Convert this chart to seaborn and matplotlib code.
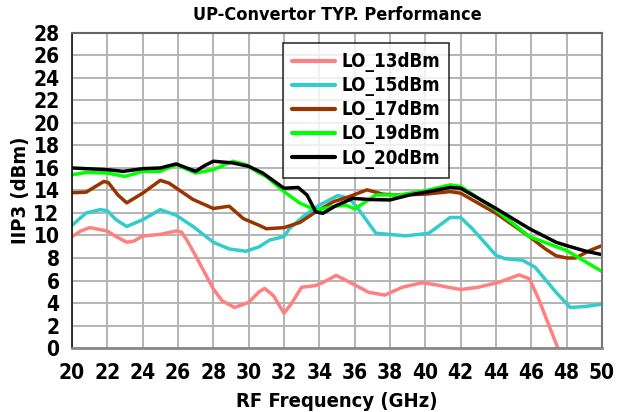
import numpy as np
import pandas as pd
import matplotlib
matplotlib.use("Agg")
import matplotlib.pyplot as plt
from matplotlib import font_manager
import seaborn as sns

title = "UP-Convertor TYP. Performance"
xlabel = "RF Frequency (GHz)"
ylabel = "IIP3 (dBm)"
series_names = ["LO_13dBm", "LO_15dBm", "LO_17dBm", "LO_19dBm", "LO_20dBm"]
colors = ["#FF8080", "#33CCCC", "#993300", "#00FF00", "#000000"]

lo13_x = [20, 20.5, 21, 22, 22.5, 23.1, 23.5, 24, 25, 25.9, 26.2, 26.5, 27, 28, 28.5, 29.2, 30, 30.6, 30.9,
          31.4, 32, 32.4, 33, 33.8, 34.3, 34.95, 35.9, 36.8, 37.7, 38.7, 39.8, 40.5, 41.3, 42, 43, 44.2, 45.3,
          45.9, 46.4, 47, 47.5]
lo13_y = [9.9, 10.4, 10.7, 10.4, 9.9, 9.4, 9.5, 9.95, 10.1, 10.4, 10.3, 9.6, 8.2, 5.25, 4.2, 3.6, 4.06, 5.0, 5.3,
          4.66, 3.1, 3.9, 5.4, 5.55, 5.9, 6.45, 5.7, 4.95, 4.7, 5.4, 5.8, 5.65, 5.4, 5.2, 5.4, 5.85, 6.5,
          6.15, 4.4, 2.0, 0.0]

lo15_x = [20, 20.8, 21.6, 22, 22.5, 23.1, 24, 25, 25.9, 26.85, 28, 28.9, 29.85, 30.6, 31.2, 32, 32.3, 33.1, 34,
          35.05, 35.7, 36.26, 37.2, 38.9, 40.2, 41.4, 42, 42.66, 44, 44.5, 45.5, 46.2, 47.4, 48.2, 49.1, 50]
lo15_y = [10.9, 12.0, 12.3, 12.2, 11.4, 10.8, 11.4, 12.3, 11.8, 10.8, 9.4, 8.8, 8.6, 9.0, 9.6, 9.9, 10.6, 11.7, 12.7,
          13.55, 13.3, 12.25, 10.2, 9.97, 10.2, 11.6, 11.6, 10.6, 8.24, 7.94, 7.8, 7.2, 4.95, 3.6, 3.7, 3.9]

lo17_x = [20, 20.8, 21.8, 22.06, 22.6, 23.1, 24, 25, 25.5, 26.85, 28, 28.9, 29.7, 30.6, 31, 32, 32.9, 33.8, 34.8,
          35.7, 36.7, 37.6, 38.5, 40, 41.4, 42, 44, 45.9, 46.8, 47.4, 48, 48.5, 49.3, 50]
lo17_y = [13.8, 13.85, 14.8, 14.7, 13.6, 12.9, 13.76, 14.9, 14.65, 13.2, 12.4, 12.6, 11.5, 10.9, 10.6, 10.7, 11.16,
          12.1, 13.0, 13.46, 14.06, 13.67, 13.6, 13.67, 13.9, 13.76, 11.97, 9.9, 8.8, 8.2, 8.0, 8.0, 8.66, 9.1]

lo19_x = [20, 20.8, 22, 23, 24, 25, 25.9, 27, 28, 29.1, 29.85, 30.6, 31, 32, 32.9, 33.8, 34.8, 35.5, 36, 36.3,
          37.2, 38.5, 40, 41.4, 42, 44, 45.9, 46.4, 48, 50]
lo19_y = [15.4, 15.6, 15.55, 15.25, 15.7, 15.7, 16.3, 15.55, 15.85, 16.6, 16.3, 15.55, 15.25, 13.9, 12.87, 12.27,
          12.57, 12.7, 12.36, 12.66, 13.6, 13.6, 13.97, 14.5, 14.36, 12.27, 9.9, 9.6, 8.66, 6.8]

lo20_x = [20, 22, 22.9, 24, 25, 25.9, 27, 27.5, 28, 29.1, 30, 30.8, 32, 32.8, 33.3, 33.8, 34.2, 34.95, 35.9, 36.8,
          38, 39.1, 40.2, 41.4, 42, 44, 45.9, 47.4, 48, 49.1, 50]
lo20_y = [16.0, 15.85, 15.7, 15.94, 16.0, 16.36, 15.7, 16.2, 16.6, 16.45, 16.15, 15.55, 14.2, 14.27, 13.6, 12.1,
          11.97, 12.66, 13.3, 13.2, 13.16, 13.6, 13.9, 14.27, 14.2, 12.4, 10.6, 9.4, 9.1, 8.6, 8.3]

xs = [lo13_x, lo15_x, lo17_x, lo19_x, lo20_x]
ys = [lo13_y, lo15_y, lo17_y, lo19_y, lo20_y]
frames = [pd.DataFrame({"freq": x, "iip3": y, "series": n}) for x, y, n in zip(xs, ys, series_names)]
df = pd.concat(frames, ignore_index=True)

sns.set_style("white")

# pick a condensed/narrow bold font if one is installed
cond = None
for f in font_manager.fontManager.ttflist:
    nm = (f.name + " " + str(f.fname)).lower()
    st = str(f.stretch).lower()
    if ("condensed" in st or "narrow" in nm or "condensed" in nm) and (
            str(f.weight) in ("bold", "700", "heavy", "semibold", "600") or f.weight in (600, 700)):
        cond = f
        break

if cond is not None:
    font_manager.fontManager.addfont(cond.fname)
    fp = font_manager.FontProperties(fname=cond.fname)
    fam = fp.get_name()
    plt.rcParams["font.family"] = [fam, "DejaVu Sans"]
    plt.rcParams["font.stretch"] = cond.stretch
    scale = 1.0
else:
    plt.rcParams["font.family"] = ["DejaVu Sans"]
    scale = 0.8
plt.rcParams["font.weight"] = "bold"
plt.rcParams["text.color"] = "black"
plt.rcParams["axes.labelcolor"] = "black"
plt.rcParams["xtick.color"] = "black"
plt.rcParams["ytick.color"] = "black"

fs_tick = 15 * scale
fs_lab = 14.5 * scale
fs_title = 13 * scale
fs_leg = 13.5 * scale

fig = plt.figure(figsize=(6.28, 4.12), dpi=100)
ax = fig.add_axes([0.1146, 0.1553, 0.844, 0.7647])

sns.lineplot(data=df, x="freq", y="iip3", hue="series", hue_order=series_names,
             palette=dict(zip(series_names, colors)), linewidth=2.5, ax=ax, sort=True,
             estimator=None)

ax.set_xlim(20, 50)
ax.set_ylim(0, 28)
ax.set_xticks(np.arange(20, 51, 2))
ax.set_yticks(np.arange(0, 29, 2))
ax.grid(True, color="#B4B4B4", linewidth=1.4)
ax.set_axisbelow(True)
ax.spines["top"].set_color("#666666")
ax.spines["top"].set_linewidth(1.5)
ax.spines["right"].set_color("#777777")
ax.spines["right"].set_linewidth(1.5)
ax.spines["left"].set_color("#111111")
ax.spines["left"].set_linewidth(1.2)
ax.spines["bottom"].set_color("#888888")
ax.spines["bottom"].set_linewidth(2.0)
ax.tick_params(axis="both", labelsize=fs_tick, length=5, width=1.2, color="#222222",
               labelcolor="black", direction="out")
ax.tick_params(axis="y", pad=4)
ax.tick_params(axis="x", pad=6)
for lab in ax.get_xticklabels() + ax.get_yticklabels():
    lab.set_fontweight("bold")
ax.set_xlabel(xlabel, fontsize=fs_lab, fontweight="bold", labelpad=6, color="black")
ax.set_ylabel(ylabel, fontsize=fs_lab, fontweight="bold", labelpad=2, color="black")
ax.set_title(title, fontsize=fs_title, fontweight="bold", pad=9, color="black")

leg = ax.legend(loc="upper left", bbox_to_anchor=(0.398, 0.969), borderaxespad=0, frameon=True, fancybox=False,
                fontsize=fs_leg, handlelength=2.3, labelspacing=0.22, borderpad=0.5, handletextpad=0.3)
leg.get_frame().set_edgecolor("black")
leg.get_frame().set_linewidth(1.2)
for t in leg.get_texts():
    t.set_fontweight("bold")
    t.set_color("black")
for l in leg.get_lines():
    l.set_linewidth(3)

fig.savefig("out.png", dpi=100)
